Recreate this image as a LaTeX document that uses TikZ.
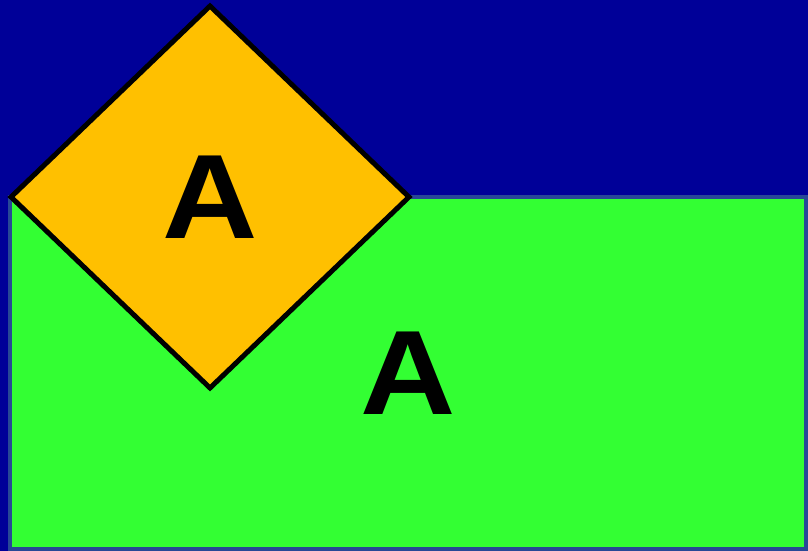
\documentclass[tikz,border=0pt]{standalone}
\usepackage{fontspec}
\setmainfont{Liberation Sans}
\usepackage{xcolor}
\usepackage{tikz}
\usetikzlibrary{shapes.geometric, positioning}
\definecolor{nightblue}{RGB}{0, 0, 152}
\definecolor{fieldgreen}{RGB}{51, 255, 51}
\definecolor{edgeblue}{RGB}{40, 72, 150}
\definecolor{signgold}{RGB}{255, 192, 0}
\newcommand{\wideletter}[1]{\scalebox{1.1}[1]{#1}}
\tikzstyle{bigletter} = [font=\fontsize{120}{120}\selectfont\bfseries, text=black, inner sep=0pt]
\tikzstyle{field} = [rectangle, draw=edgeblue, fill=fieldgreen, line width=4pt, bigletter]
\tikzstyle{sign} = [diamond, draw=black, fill=signgold, line width=5pt, bigletter]

\begin{document}
\begin{tikzpicture}[x=1pt, y=-1pt]
    % background
    \fill[nightblue] (0,0) rectangle (808,551);
    \useasboundingbox (0,0) rectangle (808,551);

    \node (ground) [field, minimum width=796pt, minimum height=352pt] at (408,373) {\wideletter{A}};
    \node (marker) [sign, minimum width=400pt, minimum height=384pt] at (210,197) {\wideletter{A}};
\end{tikzpicture}
\end{document}
